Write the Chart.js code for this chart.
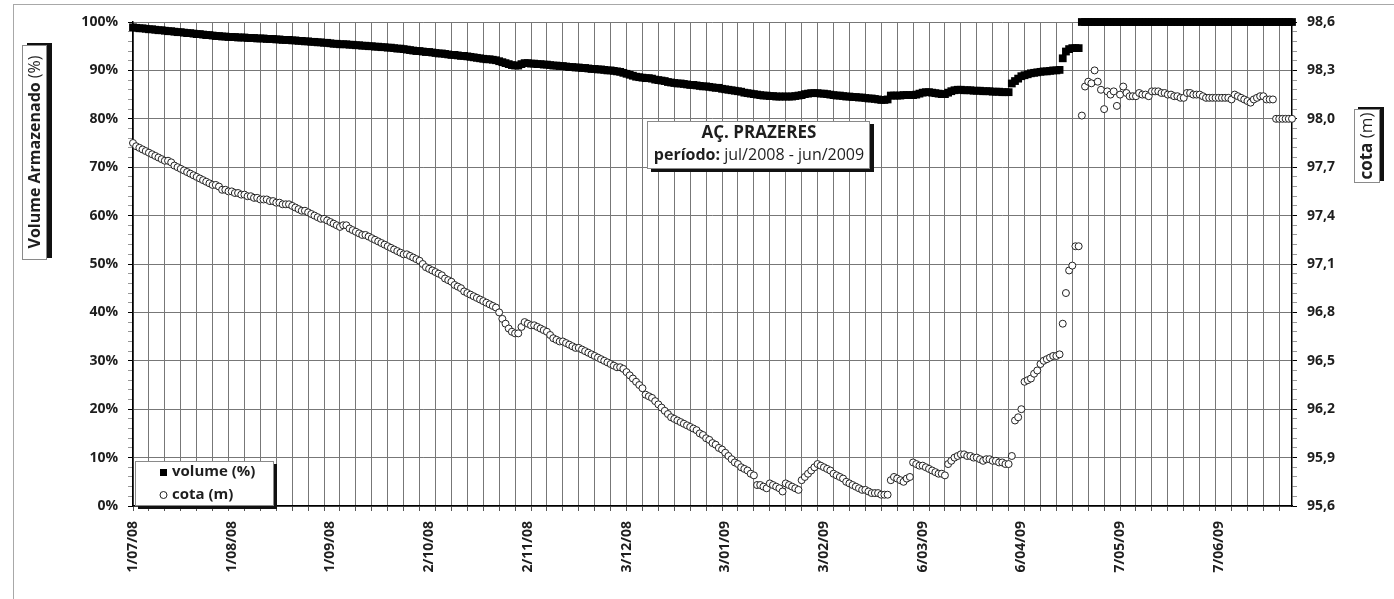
<!DOCTYPE html>
<html lang="pt-br">
<head>
  <meta charset="UTF-8">
  <title>Açude Prazeres - volume e cota</title>
  <script src="https://cdn.jsdelivr.net/npm/chart.js"></script>
  <style>
    body { margin: 0; background: #fff; }
    canvas { display: block; }
  </style>
</head>
<body>
  <canvas id="grafico" width="1394" height="599"></canvas>
  <script>
    // eixo x: dias contados a partir de 1/07/08 (0 = 1/07/08 ... 364 = 30/06/09)
    const rotulosData = ['1/07/08', '1/08/08', '1/09/08', '2/10/08', '2/11/08', '3/12/08',
                         '3/01/09', '3/02/09', '6/03/09', '6/04/09', '7/05/09', '7/06/09'];
    const diasRotulo = [0, 31, 62, 93, 124, 155, 186, 217, 248, 279, 310, 341];
    const rotulosVolume = ['0%', '10%', '20%', '30%', '40%', '50%', '60%', '70%', '80%', '90%', '100%'];
    const rotulosCota = ['95,6', '95,9', '96,2', '96,5', '96,8', '97,1', '97,4', '97,7', '98,0', '98,3', '98,6'];

    // volume armazenado (%), um valor por dia
    const volume = [
      98.9, 98.8, 98.7, 98.7, 98.6, 98.5, 98.5, 98.4, 98.3, 98.3,
      98.2, 98.1, 98.1, 98.0, 97.9, 97.9, 97.8, 97.7, 97.7, 97.6,
      97.5, 97.5, 97.4, 97.3, 97.3, 97.2, 97.1, 97.1, 97.0, 97.0,
      96.9, 96.9, 96.9, 96.8, 96.8, 96.8, 96.7, 96.7, 96.7, 96.6,
      96.6, 96.6, 96.5, 96.5, 96.5, 96.4, 96.4, 96.3, 96.3, 96.3,
      96.2, 96.2, 96.1, 96.1, 96.0, 96.0, 95.9, 95.9, 95.8, 95.8,
      95.7, 95.7, 95.6, 95.5, 95.5, 95.4, 95.4, 95.4, 95.3, 95.3,
      95.2, 95.2, 95.1, 95.1, 95.0, 95.0, 94.9, 94.9, 94.8, 94.8,
      94.7, 94.7, 94.6, 94.5, 94.5, 94.4, 94.3, 94.2, 94.1, 94.0,
      94.0, 93.9, 93.8, 93.8, 93.7, 93.6, 93.5, 93.5, 93.4, 93.3,
      93.2, 93.2, 93.1, 93.0, 93.0, 92.9, 92.8, 92.7, 92.6, 92.5,
      92.4, 92.3, 92.3, 92.2, 92.1, 91.9, 91.7, 91.5, 91.3, 91.1,
      91.0, 91.0, 91.3, 91.5, 91.5, 91.4, 91.4, 91.3, 91.3, 91.2,
      91.2, 91.1, 91.0, 91.0, 90.9, 90.9, 90.8, 90.7, 90.7, 90.6,
      90.6, 90.5, 90.5, 90.4, 90.3, 90.3, 90.2, 90.2, 90.1, 90.0,
      90.0, 89.9, 89.8, 89.7, 89.5, 89.3, 89.1, 88.9, 88.7, 88.6,
      88.5, 88.4, 88.4, 88.3, 88.1, 88.0, 87.9, 87.8, 87.6, 87.5,
      87.4, 87.3, 87.3, 87.2, 87.1, 87.0, 87.0, 86.9, 86.8, 86.7,
      86.7, 86.6, 86.5, 86.4, 86.4, 86.2, 86.1, 86.0, 85.9, 85.8,
      85.7, 85.6, 85.4, 85.3, 85.2, 85.1, 85.0, 84.9, 84.8, 84.8,
      84.7, 84.7, 84.6, 84.6, 84.6, 84.6, 84.6, 84.6, 84.7, 84.8,
      84.9, 85.1, 85.2, 85.3, 85.3, 85.3, 85.2, 85.2, 85.1, 85.0,
      84.9, 84.8, 84.8, 84.7, 84.6, 84.6, 84.5, 84.5, 84.4, 84.4,
      84.3, 84.2, 84.2, 84.1, 84.0, 83.9, 83.9, 84.0, 84.8, 84.8,
      84.8, 84.8, 84.9, 84.9, 84.9, 84.9, 85.0, 85.2, 85.4, 85.5,
      85.5, 85.4, 85.3, 85.2, 85.1, 85.1, 85.4, 85.7, 85.9, 86.0,
      86.0, 85.9, 85.9, 85.9, 85.8, 85.8, 85.8, 85.7, 85.7, 85.7,
      85.6, 85.6, 85.6, 85.5, 85.5, 85.5, 87.3, 87.8, 88.3, 88.8,
      89.0, 89.2, 89.4, 89.5, 89.6, 89.7, 89.8, 89.8, 89.9, 90.0,
      90.0, 90.1, 92.5, 93.9, 94.4, 94.6, 94.6, 94.6, 100, 100,
      100, 100, 100, 100, 100, 100, 100, 100, 100, 100,
      100, 100, 100, 100, 100, 100, 100, 100, 100, 100,
      100, 100, 100, 100, 100, 100, 100, 100, 100, 100,
      100, 100, 100, 100, 100, 100, 100, 100, 100, 100,
      100, 100, 100, 100, 100, 100, 100, 100, 100, 100,
      100, 100, 100, 100, 100, 100, 100, 100, 100, 100,
      100, 100, 100, 100, 100
    ];

    // cota (m), um valor por dia
    const cota = [
      97.85, 97.83, 97.82, 97.81, 97.80, 97.79, 97.78, 97.77, 97.76, 97.75,
      97.74, 97.74, 97.73, 97.71, 97.70, 97.69, 97.68, 97.67, 97.66, 97.65,
      97.64, 97.63, 97.62, 97.61, 97.60, 97.59, 97.59, 97.58, 97.56, 97.56,
      97.55, 97.55, 97.54, 97.54, 97.53, 97.53, 97.52, 97.52, 97.51, 97.51,
      97.50, 97.50, 97.50, 97.49, 97.49, 97.48, 97.48, 97.47, 97.47, 97.47,
      97.46, 97.45, 97.44, 97.43, 97.43, 97.42, 97.41, 97.40, 97.39, 97.38,
      97.38, 97.37, 97.36, 97.35, 97.34, 97.33, 97.34, 97.34, 97.32, 97.31,
      97.30, 97.29, 97.28, 97.28, 97.27, 97.26, 97.25, 97.24, 97.23, 97.22,
      97.21, 97.20, 97.19, 97.18, 97.17, 97.16, 97.16, 97.15, 97.14, 97.13,
      97.12, 97.10, 97.08, 97.07, 97.06, 97.05, 97.04, 97.03, 97.01, 97.00,
      96.99, 96.97, 96.96, 96.95, 96.93, 96.92, 96.91, 96.90, 96.89, 96.88,
      96.87, 96.86, 96.85, 96.84, 96.83, 96.80, 96.76, 96.73, 96.70, 96.68,
      96.67, 96.67, 96.71, 96.74, 96.73, 96.72, 96.72, 96.71, 96.70, 96.69,
      96.68, 96.66, 96.64, 96.63, 96.62, 96.62, 96.61, 96.60, 96.59, 96.58,
      96.58, 96.57, 96.56, 96.55, 96.54, 96.53, 96.52, 96.51, 96.50, 96.49,
      96.48, 96.47, 96.46, 96.46, 96.45, 96.43, 96.41, 96.39, 96.37, 96.35,
      96.33, 96.29, 96.28, 96.27, 96.25, 96.23, 96.21, 96.19, 96.17, 96.15,
      96.14, 96.13, 96.12, 96.11, 96.10, 96.09, 96.08, 96.07, 96.05, 96.04,
      96.02, 96.01, 95.99, 95.98, 95.96, 95.95, 95.93, 95.91, 95.89, 95.87,
      95.86, 95.84, 95.83, 95.82, 95.80, 95.79, 95.73, 95.73, 95.72, 95.71,
      95.74, 95.73, 95.72, 95.71, 95.69, 95.74, 95.73, 95.72, 95.71, 95.70,
      95.76, 95.78, 95.80, 95.82, 95.84, 95.86, 95.85, 95.84, 95.83, 95.82,
      95.80, 95.79, 95.78, 95.77, 95.75, 95.74, 95.73, 95.72, 95.71, 95.70,
      95.70, 95.69, 95.68, 95.68, 95.68, 95.67, 95.67, 95.67, 95.76, 95.78,
      95.77, 95.76, 95.75, 95.77, 95.78, 95.87, 95.86, 95.85, 95.85, 95.84,
      95.83, 95.82, 95.81, 95.80, 95.80, 95.79, 95.86, 95.88, 95.90, 95.91,
      95.92, 95.92, 95.91, 95.91, 95.90, 95.90, 95.89, 95.88, 95.89, 95.89,
      95.88, 95.88, 95.87, 95.87, 95.86, 95.86, 95.91, 96.13, 96.15, 96.20,
      96.37, 96.38, 96.39, 96.42, 96.44, 96.48, 96.50, 96.51, 96.52, 96.53,
      96.53, 96.54, 96.73, 96.92, 97.06, 97.09, 97.21, 97.21, 98.02, 98.20,
      98.23, 98.22, 98.30, 98.23, 98.18, 98.06, 98.17, 98.15, 98.17, 98.08,
      98.15, 98.20, 98.16, 98.14, 98.14, 98.14, 98.16, 98.15, 98.15, 98.14,
      98.17, 98.17, 98.17, 98.16, 98.16, 98.15, 98.15, 98.14, 98.14, 98.13,
      98.13, 98.16, 98.16, 98.15, 98.15, 98.15, 98.14, 98.13, 98.13, 98.13,
      98.13, 98.13, 98.13, 98.13, 98.13, 98.12, 98.15, 98.14, 98.13, 98.12,
      98.11, 98.10, 98.12, 98.13, 98.14, 98.14, 98.12, 98.12, 98.12, 98.00,
      98.00, 98.00, 98.00, 98.00, 98.00
    ];

    const fonte = "'Open Sans', sans-serif";
    const fonteEixo = { family: fonte, size: 14, weight: 'bold' };
    const corGrade = '#777';
    const corTexto = '#1e1e1e';
    const semCor = 'rgba(0,0,0,0)';

    // caixa branca com sombra preta deslocada
    function caixa(c, x, y, w, h, dx, dy) {
      c.fillStyle = '#111';
      c.fillRect(x + dx, y + dy, w, h);
      c.fillStyle = '#fff';
      c.fillRect(x, y, w, h);
      c.strokeStyle = '#8a8a8a';
      c.lineWidth = 1;
      c.strokeRect(x + 0.5, y + 0.5, w - 1, h - 1);
    }

    // texto em duas partes (negrito + normal) centrado em cx
    function textoMisto(c, negrito, normal, cx, cy, tam) {
      c.font = 'bold ' + tam + 'px ' + fonte;
      const w1 = c.measureText(negrito).width;
      c.font = tam + 'px ' + fonte;
      const w2 = c.measureText(normal).width;
      const x = cx - (w1 + w2) / 2;
      c.textBaseline = 'middle';
      c.textAlign = 'left';
      c.fillStyle = corTexto;
      c.font = 'bold ' + tam + 'px ' + fonte;
      c.fillText(negrito, x, cy);
      c.font = tam + 'px ' + fonte;
      c.fillText(normal, x + w1, cy);
    }

    const molduras = {
      id: 'molduras',
      beforeDraw(chart) {
        const c = chart.ctx;
        c.save();
        c.strokeStyle = '#a8a8a8';
        c.lineWidth = 1;
        c.strokeRect(13.5, 4.5, 1500, 800);
        c.restore();
      },
      afterDraw(chart) {
        const c = chart.ctx;
        c.save();

        // titulo do eixo esquerdo
        caixa(c, 22, 45, 25, 215, 5, -2);
        c.save();
        c.translate(35, 152);
        c.rotate(-Math.PI / 2);
        textoMisto(c, 'Volume Armazenado', ' (%)', 0, 0, 16);
        c.restore();

        // titulo do eixo direito
        caixa(c, 1354, 109, 26, 74, 4, -2);
        c.save();
        c.translate(1367, 146);
        c.rotate(-Math.PI / 2);
        textoMisto(c, 'cota', ' (m)', 0, 0, 17);
        c.restore();

        // caixa do titulo
        caixa(c, 647, 121, 223, 48, 4, 3);
        c.fillStyle = corTexto;
        c.textAlign = 'center';
        c.textBaseline = 'middle';
        c.font = 'bold 17px ' + fonte;
        c.fillText('AÇ. PRAZERES', 759, 133);
        textoMisto(c, 'período:', ' jul/2008 - jun/2009', 759, 155, 16);

        // legenda
        caixa(c, 135, 461, 139, 45, 3, 3);
        c.fillStyle = '#000';
        c.fillRect(160, 469, 7, 7);
        c.beginPath();
        c.arc(163.5, 495, 3.5, 0, Math.PI * 2);
        c.fillStyle = '#fff';
        c.fill();
        c.strokeStyle = '#222';
        c.lineWidth = 1;
        c.stroke();
        c.fillStyle = corTexto;
        c.textAlign = 'left';
        c.textBaseline = 'middle';
        c.font = 'bold 15px ' + fonte;
        c.fillText('volume (%)', 172, 472);
        c.fillText('cota (m)', 172, 495);

        c.restore();
      }
    };

    new Chart(document.getElementById('grafico'), {
      type: 'scatter',
      data: {
        datasets: [
          {
            label: 'cota (m)',
            data: cota.map((v, i) => ({ x: i, y: v })),
            yAxisID: 'y1',
            pointStyle: 'circle',
            pointRadius: 3.5,
            pointBackgroundColor: '#fff',
            pointBorderColor: '#222',
            pointBorderWidth: 1,
            clip: false,
            order: 0
          },
          {
            label: 'volume (%)',
            data: volume.map((v, i) => ({ x: i, y: v })),
            yAxisID: 'y',
            pointStyle: 'rect',
            pointRadius: 5.5,
            pointBackgroundColor: '#000',
            pointBorderColor: '#000',
            pointBorderWidth: 0,
            clip: false,
            order: 1
          }
        ]
      },
      options: {
        responsive: false,
        animation: false,
        layout: { padding: { top: 22, left: 0, right: 0, bottom: 0 } },
        plugins: { legend: { display: false }, tooltip: { enabled: false } },
        scales: {
          x: {
            type: 'linear',
            min: 0,
            max: 364,
            afterBuildTicks: s => {
              const v = [];
              for (let d = 0; d <= 360; d += 5) v.push(d);
              diasRotulo.forEach(d => { if (!v.includes(d)) v.push(d); });
              v.sort((a, b) => a - b);
              s.ticks = v.map(d => ({ value: d }));
            },
            afterFit: s => { s.height = 93; },
            grid: {
              color: c => (c.tick && c.tick.value % 5 === 0) ? corGrade : semCor,
              tickColor: c => (c.tick && c.tick.value % 5 === 0) ? '#555' : semCor,
              tickLength: 5,
              lineWidth: 1
            },
            border: { color: '#000', width: 1.5 },
            ticks: {
              autoSkip: false,
              minRotation: 90,
              maxRotation: 90,
              padding: 10,
              color: corTexto,
              font: fonteEixo,
              callback: v => {
                const k = diasRotulo.indexOf(v);
                return k >= 0 ? rotulosData[k] : '';
              }
            }
          },
          y: {
            position: 'left',
            min: 0,
            max: 100,
            afterBuildTicks: s => {
              s.ticks = [];
              for (let i = 0; i <= 50; i++) s.ticks.push({ value: i * 2 });
            },
            afterFit: s => { s.width = 133; },
            grid: {
              color: c => c.index % 5 === 0 ? corGrade : semCor,
              tickColor: c => c.index % 5 === 0 ? '#000' : '#999',
              tickLength: 5,
              lineWidth: 1
            },
            border: { color: '#000', width: 1.5 },
            ticks: {
              autoSkip: false,
              padding: 10,
              color: corTexto,
              font: fonteEixo,
              callback: (v, i) => i % 5 === 0 ? rotulosVolume[i / 5] : ''
            }
          },
          y1: {
            position: 'right',
            min: 95.6,
            max: 98.6,
            afterBuildTicks: s => {
              s.ticks = [];
              for (let i = 0; i <= 50; i++) s.ticks.push({ value: 95.6 + i * 0.06 });
            },
            afterFit: s => { s.width = 102; },
            grid: {
              drawOnChartArea: false,
              tickColor: c => c.index % 5 === 0 ? '#000' : '#999',
              tickLength: 5
            },
            border: { color: '#000', width: 1.5 },
            ticks: {
              autoSkip: false,
              padding: 10,
              color: corTexto,
              font: fonteEixo,
              callback: (v, i) => i % 5 === 0 ? rotulosCota[i / 5] : ''
            }
          }
        }
      },
      plugins: [molduras]
    });
  </script>
</body>
</html>
